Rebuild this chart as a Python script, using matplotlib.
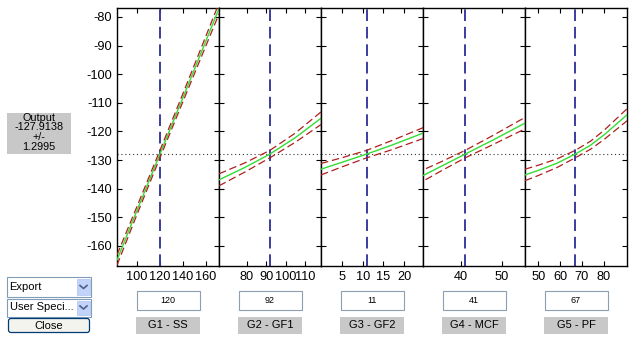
import matplotlib
matplotlib.use("Agg")
import matplotlib.pyplot as plt
from matplotlib.patches import Rectangle, FancyBboxPatch
import numpy as np

plt.rcParams['font.family'] = ['Liberation Sans', 'DejaVu Sans']
plt.rcParams['axes.unicode_minus'] = False

# ---- data ----
factor_names = ["G1 - SS", "G2 - GF1", "G3 - GF2", "G4 - MCF", "G5 - PF"]
current_values = [120, 92, 11, 41, 67]
current_labels = ["120", "92", "11", "41", "67"]
output_value = -127.9138
output_ci = 1.2995

xlims = [(82.6, 171.4), (65.7, 118.3), (0.0, 24.5), (30.5, 55.8), (43.9, 90.7)]
xticks = [[100, 120, 140, 160], [80, 90, 100, 110], [5, 10, 15, 20], [40, 50], [50, 60, 70, 80]]
ylim = (-167.0, -76.9)
yticks = [-160, -150, -140, -130, -120, -110, -100, -90, -80]

g1_x = [82.6, 100, 120, 140, 160, 171.4]
g1_y = [-164.9, -147.6, -127.9, -108.2, -88.4, -77.1]
g1_hw = [1.8, 1.4, 1.3, 1.4, 1.7, 1.9]

g2_x = [65.7, 79, 92, 105, 118.3]
g2_y = [-136.9, -132.6, -127.9, -122.2, -115.4]
g2_hw = [2.1, 1.6, 1.3, 1.6, 2.2]

g3_x = [0.0, 5, 11, 17, 24.5]
g3_y = [-133.2, -130.8, -127.9, -124.8, -120.6]
g3_hw = [2.0, 1.6, 1.3, 1.6, 1.9]

g4_x = [28.7, 35, 41, 48, 55.8]
g4_y = [-136.7, -132.2, -127.9, -122.9, -117.1]
g4_hw = [2.1, 1.6, 1.3, 1.6, 2.0]

g5_x = [43.9, 50, 58.6, 67, 74, 80.2, 90.7]
g5_y = [-135.2, -133.6, -131.1, -127.9, -124.8, -121.2, -114.2]
g5_hw = [2.0, 1.8, 1.5, 1.3, 1.4, 1.6, 2.1]

curves = [(g1_x, g1_y, g1_hw), (g2_x, g2_y, g2_hw), (g3_x, g3_y, g3_hw),
          (g4_x, g4_y, g4_hw), (g5_x, g5_y, g5_hw)]

# ---- figure ----
W, H = 641, 342
fig = plt.figure(figsize=(W / 100, H / 100), dpi=100)
fig.patch.set_facecolor('white')

bg = fig.add_axes([0, 0, 1, 1])
bg.set_xlim(0, W)
bg.set_ylim(H, 0)
bg.axis('off')

edges = [117, 219, 321, 423, 525, 627]
top_px, bot_px = 8, 266

green = '#33dd33'
red = '#b01e1e'
blue = '#3c3ca0'

for i in range(5):
    l, r = edges[i], edges[i + 1]
    ax = fig.add_axes([l / W, 1 - bot_px / H, (r - l) / W, (bot_px - top_px) / H])
    x, y, hw = curves[i]
    x = np.array(x); y = np.array(y); hw = np.array(hw)
    ax.plot(x, y, color=green, lw=1.0, zorder=3)
    ax.plot(x, y + hw, color=red, lw=0.9, dashes=(6, 3), zorder=3)
    ax.plot(x, y - hw, color=red, lw=0.9, dashes=(6, 3), zorder=3)
    ax.axvline(current_values[i], color=blue, lw=1.4, dashes=(6, 3), zorder=2)
    ax.axhline(output_value, color='#333333', lw=0.8, dashes=(1, 2.5), zorder=1)
    ax.set_xlim(*xlims[i])
    ax.set_ylim(*ylim)
    ax.set_xticks(xticks[i])
    ax.set_yticks(yticks)
    ax.tick_params(direction='in', length=3.5, width=0.8, top=True, right=True,
                   labelsize=9.2, pad=3.5, colors='black')
    if i > 0:
        ax.set_yticklabels([])
    for s in ax.spines.values():
        s.set_linewidth(1.0)
        s.set_color('black')

    # edit box and label box
    cx = (l + r) / 2
    bg.add_patch(Rectangle((cx - 31.5, 290.5), 63, 19, facecolor='white',
                           edgecolor='#8c9fb0', lw=0.8))
    bg.text(cx, 300.5, current_labels[i], ha='center', va='center', fontsize=6.5)
    bg.add_patch(Rectangle((cx - 32, 317), 64, 16.5, facecolor='#c8c8c8',
                           edgecolor='none'))
    bg.text(cx, 325.5, factor_names[i], ha='center', va='center', fontsize=8)

# Output box
bg.add_patch(Rectangle((7, 113), 64, 41, facecolor='#c8c8c8', edgecolor='none'))
for txt, yy in zip(["Output", "%.4f" % output_value, "+/-", "%.4f" % output_ci],
                   [118.0, 127.5, 137.5, 147.5]):
    bg.text(39, yy, txt, ha='center', va='center', fontsize=7.8)

# dropdowns
for yy, hh, txt in [(277, 20, "Export"), (298.5, 18, "User Speci...")]:
    bg.add_patch(Rectangle((7, yy), 84, hh, facecolor='white', edgecolor='#7f9db9', lw=0.8))
    bg.add_patch(Rectangle((77, yy + 2), 13, hh - 4, facecolor='#c1d3fb', edgecolor='#b0c4ec', lw=0.5))
    bg.plot([80, 83.5, 87], [yy + hh / 2 - 1.5, yy + hh / 2 + 1.5, yy + hh / 2 - 1.5],
            color='#4d6185', lw=1.2)
    bg.text(9.5, yy + hh / 2, txt, ha='left', va='center', fontsize=8)

# Close button
bg.add_patch(FancyBboxPatch((8.5, 318.5), 81, 14, boxstyle="round,pad=0,rounding_size=2.5",
                            facecolor='#f4f4ee', edgecolor='#003c74', lw=0.9))
bg.text(49, 325.8, "Close", ha='center', va='center', fontsize=8)

fig.savefig("out.png", dpi=100)
